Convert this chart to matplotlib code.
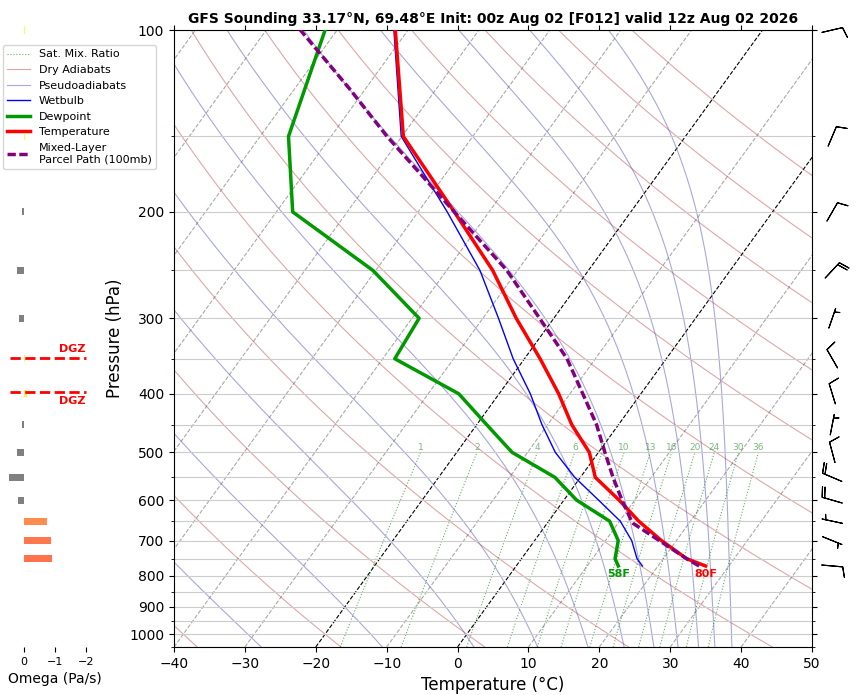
import numpy as np
import matplotlib
matplotlib.use("Agg")
import matplotlib.pyplot as plt
from matplotlib import transforms
from matplotlib.colors import Normalize
from matplotlib.ticker import NullFormatter

# sounding profile, surface first (hPa, degC)
pres = [771, 750, 700, 650, 600, 550, 500, 450, 400, 350, 300, 250, 200, 150, 100]
temp = [26.7, 23.3, 17.9, 12.7, 7.8, 2.1, -1.3, -6.6, -11.6, -17.8, -25.3, -33.5, -44.9, -59.8, -71.8]
dwpt = [14.4, 13.2, 11.8, 8.6, 1.8, -3.6, -12.2, -18.6, -25.7, -38.3, -39.0, -50.4, -67.7, -76.0, -81.7]
wetb = [17.8, 16.3, 13.7, 10.1, 4.9, -0.8, -6.1, -10.8, -15.6, -21.6, -27.8, -35.3, -45.9, -60.1, -72.0]

# mixed-layer parcel
parcel_p = [771, 750, 700, 656, 650, 600, 550, 500, 450, 400, 350, 300, 250, 200, 150, 125, 100]
parcel_t = [25.8, 23.3, 17.6, 12.2, 11.7, 8.2, 4.6, 0.9, -3.1, -8.2, -14.0, -22.0, -31.5, -44.9, -62.1, -72.3, -85.2]

# omega (Pa/s)
omega_p = [100, 150, 200, 250, 300, 350, 400, 450, 500, 550, 600, 650, 700, 750]
omega = [-0.03, -0.03, 0.05, 0.22, 0.15, -0.03, -0.1, 0.05, 0.22, 0.48, 0.2, -0.74, -0.87, -0.9]

# winds (deg from, kt)
wind_p = [771, 700, 650, 600, 550, 500, 450, 400, 350, 300, 250, 200, 150, 100]
wind_dir = [95, 112, 282, 286, 293, 345, 11, 343, 330, 19, 43, 30, 23, 77]
wind_spd = [10, 5, 5, 20, 20, 10, 5, 10, 10, 5, 20, 10, 10, 10]

# background lines
isotherms = list(range(-110, 51, 10))
dry_thetas = list(range(-40, 181, 20))          # degC at 1000 hPa
moist_t_bottom = [-27.7, -10.6, 2.3, 11.3, 18.4, 23.5, 27.7, 31.1, 34.0, 36.3, 38.7]  # degC at 1050 hPa
mix_ratios = [1, 2, 4, 6, 8, 10, 13, 16, 20, 24, 30, 36]  # g/kg

title = "GFS Sounding 33.17°N, 69.48°E Init: 00z Aug 02 [F012] valid 12z Aug 02 2026"

P_BOT, P_TOP = 1050, 100
SKEW_DEG = 35


def moist_lapse(p, t0):
    Rd, Cp, Lv, eps = 287.04749, 1004.6662, 2.50084e6, 0.6219569

    def dtdp(pp, tk):
        tc = tk - 273.15
        es = 6.112 * np.exp(17.67 * tc / (tc + 243.5))
        rs = eps * es / (pp - es)
        return (Rd * tk + Lv * rs) / (Cp + Lv * Lv * rs * eps / (Rd * tk * tk)) / pp

    t = np.empty((len(t0), len(p)))
    t[:, 0] = np.array(t0) + 273.15
    for i in range(1, len(p)):
        h = p[i] - p[i - 1]
        tk = t[:, i - 1]
        pp = p[i - 1]
        k1 = dtdp(pp, tk)
        k2 = dtdp(pp + h / 2, tk + h / 2 * k1)
        k3 = dtdp(pp + h / 2, tk + h / 2 * k2)
        k4 = dtdp(pp + h, tk + h * k3)
        t[:, i] = tk + h / 6 * (k1 + 2 * k2 + 2 * k3 + k4)
    return t - 273.15


def mixing_dewpoint(w, p):
    e = w * p / (622.0 + w)
    lg = np.log(e / 6.112)
    return 243.5 * lg / (17.67 - lg)


fig = plt.figure(figsize=(8.57, 6.95), dpi=100)
bottom, height = 1 - 647 / 695, 617 / 695
ax = fig.add_axes([174 / 857, bottom, 638 / 857, height])
ax.set_yscale('log')
ax.set_ylim(P_BOT, P_TOP)
ax.set_xlim(-40, 50)
ax.set_autoscale_on(False)
skew = ax.transScale + (ax.transLimits + transforms.Affine2D().skew_deg(SKEW_DEG, 0)) + ax.transAxes

p_full = np.geomspace(P_BOT, P_TOP, 200)

for t in isotherms:
    col = 'black' if t in (0, -20) else '#a8a8a8'
    ax.plot([t, t], [P_BOT, P_TOP], transform=skew, color=col, ls='--', lw=0.8, zorder=1)

for i, th in enumerate(dry_thetas):
    tt = (th + 273.15) * (p_full / 1000.0) ** 0.2857 - 273.15
    ax.plot(tt, p_full, transform=skew, color='firebrick', alpha=0.4, lw=0.8, zorder=1,
            label='Dry Adiabats' if i == 0 else None)

moist = moist_lapse(p_full, moist_t_bottom)
for i, tt in enumerate(moist):
    ax.plot(tt, p_full, transform=skew, color='#6060c0', alpha=0.55, lw=0.8, zorder=1,
            label='Pseudoadiabats' if i == 0 else None)

p_mix = np.geomspace(P_BOT, 500, 40)
for i, w in enumerate(mix_ratios):
    ax.plot(mixing_dewpoint(w, p_mix), p_mix, transform=skew, color='#228b22', alpha=0.7,
            ls=':', lw=0.8, zorder=1, label='Sat. Mix. Ratio' if i == 0 else None)
    ax.text(mixing_dewpoint(w, 500.0), 500, str(w), transform=skew, color='#228b22', alpha=0.6,
            fontsize=6.5, ha='center', va='bottom')

ax.plot(wetb, pres, transform=skew, color='blue', lw=1, zorder=4, label='Wetbulb')
ax.plot(dwpt, pres, transform=skew, color='#009a00', lw=2.5, zorder=5, label='Dewpoint')
ax.plot(temp, pres, transform=skew, color='red', lw=2.5, zorder=5, label='Temperature')
ax.plot(parcel_t, parcel_p, transform=skew, color='purple', lw=2.5, zorder=6,
        dashes=(2.4, 1.0), label='Mixed-Layer\nParcel Path (100mb)')

ax.annotate(f"{round(temp[0] * 9 / 5 + 32)}F", xy=(temp[0], pres[0]), xycoords=skew,
            xytext=(0, -2), textcoords='offset points', ha='center', va='top',
            color='red', fontweight='bold', fontsize=8)
ax.annotate(f"{round(dwpt[0] * 9 / 5 + 32)}F", xy=(dwpt[0], pres[0]), xycoords=skew,
            xytext=(0, -2), textcoords='offset points', ha='center', va='top',
            color='#009a00', fontweight='bold', fontsize=8)

major_p = list(range(100, 1001, 100))
minor_p = list(range(150, 1051, 100))
ax.set_yticks(major_p)
ax.set_yticklabels([str(p) for p in major_p])
ax.set_yticks(minor_p, minor=True)
ax.yaxis.set_minor_formatter(NullFormatter())
ax.set_xticks(range(-40, 51, 10))
ax.tick_params(top=True, right=True, which='both', labelsize=10)
ax.grid(True, which='both', axis='y', color='#cccccc', lw=0.8)
ax.set_xlabel('Temperature (°C)', fontsize=12)
ax.set_ylabel('Pressure (hPa)', fontsize=12)
ax.set_title(title, fontsize=10, fontweight='bold', pad=5)

handles, labels = ax.get_legend_handles_labels()
order = ['Sat. Mix. Ratio', 'Dry Adiabats', 'Pseudoadiabats', 'Wetbulb', 'Dewpoint',
         'Temperature', 'Mixed-Layer\nParcel Path (100mb)']
hmap = dict(zip(labels, handles))
ax.legend([hmap[k] for k in order], order, loc='upper left', bbox_to_anchor=(3 / 857, 1 - 45 / 695),
          bbox_transform=fig.transFigure, borderaxespad=0, fontsize=8, labelspacing=0.5)

# wind barbs
ax_w = fig.add_axes([812 / 857, bottom, 45 / 857, height])
ax_w.set_yscale('log')
ax_w.set_ylim(P_BOT, P_TOP)
ax_w.set_xlim(0, 1)
rad = np.deg2rad(wind_dir)
u = -np.array(wind_spd) * np.sin(rad)
v = -np.array(wind_spd) * np.cos(rad)
ax_w.barbs(np.full(len(wind_p), 0.45), wind_p, u, v, length=5.5, pivot='middle', lw=0.8,
           sizes=dict(height=0.5), clip_on=False)
ax_w.axis('off')

# omega panel
ax_om = fig.add_axes([24 / 857, bottom, 62 / 857, height])
ax_om.set_yscale('log')
ax_om.set_ylim(P_BOT, P_TOP)
ax_om.set_xlim(0, -2)
cmap = plt.get_cmap('autumn_r')
norm = Normalize(0, 1.15)
om_colors = ['gray' if w >= 0 else cmap(norm(-w), alpha=0.7) for w in omega]
ax_om.barh(omega_p, omega, height=0.027 * np.array(omega_p), color=om_colors, clip_on=False)

dgz_top = np.interp(-18, temp[::-1], pres[::-1])
dgz_bot = np.interp(-12, temp[::-1], pres[::-1])
for pz, va in ((dgz_top, 'bottom'), (dgz_bot, 'top')):
    ax_om.hlines(pz, 0.45, -2, colors='red', linestyles='--', lw=2, clip_on=False)
    ax_om.text(-2, pz * (0.985 if va == 'bottom' else 1.015), 'DGZ', color='red', fontweight='bold',
               fontsize=8, ha='right', va=va)
ax_om.set_xticks([0, -1, -2])
ax_om.tick_params(labelsize=8)
ax_om.set_yticks([])
ax_om.set_yticks([], minor=True)
for s in ax_om.spines.values():
    s.set_visible(False)
ax_om.patch.set_visible(False)
ax_om.set_xlabel('Omega (Pa/s)', fontsize=10)

fig.savefig('out.png', dpi=100)
